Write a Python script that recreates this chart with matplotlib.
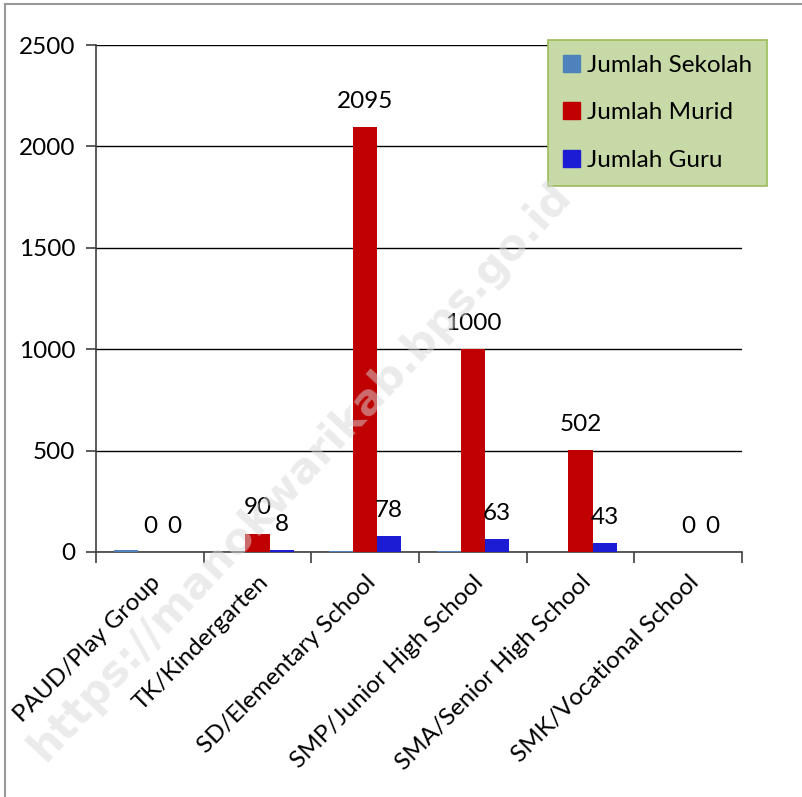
import matplotlib
matplotlib.use("Agg")
import matplotlib.pyplot as plt
import numpy as np
from matplotlib.lines import Line2D

categories = ["PAUD/Play Group", "TK/Kindergarten", "SD/Elementary School",
              "SMP/Junior High School", "SMA/Senior High School", "SMK/Vocational School"]
sekolah = [8, 1, 5, 3, 1, 0]
murid = [0, 90, 2095, 1000, 502, 0]
guru = [0, 8, 78, 63, 43, 0]
series_names = ["Jumlah Sekolah", "Jumlah Murid", "Jumlah Guru"]
colors = ["#4f81bd", "#c00000", "#1c1cd4"]
yticks = [0, 500, 1000, 1500, 2000, 2500]

plt.rcParams['font.family'] = ['Lato', 'DejaVu Sans']
FS = 17.5

fig = plt.figure(figsize=(8.03, 7.97), dpi=100)
ax = fig.add_axes([96/803, 1-552/797, (742-96)/803, (552-45)/797])

x = np.arange(len(categories))
w = 0.223
data = [sekolah, murid, guru]
for i, (vals, c, name) in enumerate(zip(data, colors, series_names)):
    bars = ax.bar(x + (i-1)*w, vals, width=w, color=c, label=name, zorder=3)
    if i > 0:
        for b, v in zip(bars, vals):
            ax.annotate(str(v), (b.get_x()+b.get_width()/2, b.get_height()),
                        xytext=(0, 14), textcoords='offset points',
                        ha='center', va='baseline', fontsize=FS, zorder=5)

ax.set_xlim(-0.5, len(categories)-0.5)
ax.set_ylim(0, 2500)
ax.set_yticks(yticks)
ax.set_yticklabels([str(t) for t in yticks], fontsize=FS)
ax.yaxis.grid(True, color='black', linewidth=1, zorder=0)
ax.set_axisbelow(True)
for s in ['top', 'right']:
    ax.spines[s].set_visible(False)
ax.spines['left'].set_color('#404040')
ax.spines['bottom'].set_color('#404040')
ax.spines['left'].set_linewidth(1.2)
ax.spines['bottom'].set_linewidth(1.2)
ax.tick_params(axis='y', length=7, width=1.2, color='#404040', pad=8)

ax.set_xticks(np.arange(-0.5, len(categories)), minor=True)
ax.set_xticks(x)
ax.set_xticklabels(categories, rotation=45, ha='right', va='top',
                   rotation_mode='anchor', fontsize=FS)
ax.tick_params(axis='x', which='major', length=0, pad=14)
ax.tick_params(axis='x', which='minor', length=8, width=1.2, color='#404040')

handles = [plt.Rectangle((0, 0), 1, 1, color=c) for c in colors]
leg = fig.legend(handles, series_names, loc='upper left',
                 bbox_to_anchor=(548/803, 1-40/797), fontsize=FS,
                 frameon=True, fancybox=False, handlelength=0.7, handleheight=0.7,
                 handletextpad=0.3, labelspacing=1.1, borderpad=0.6, borderaxespad=0)
leg.get_frame().set_facecolor('#c6d9a6')
leg.get_frame().set_edgecolor('#9bbb59')
leg.get_frame().set_linewidth(1.2)
leg.get_frame().set_alpha(1)

# watermark
fig.text(300/803, 1-472/797, "https://manokwarikab.bps.go.id", rotation=47,
         fontsize=31, fontweight='bold', color='#d8d8d8', alpha=0.5,
         ha='center', va='center', family='DejaVu Sans', zorder=10)

# outer border (left and top)
fig.add_artist(Line2D([5/803, 5/803], [0, 1-4/797], color='#999999', lw=1.5))
fig.add_artist(Line2D([5/803, 1], [1-4/797, 1-4/797], color='#999999', lw=1.5))

fig.savefig("out.png", dpi=100)
